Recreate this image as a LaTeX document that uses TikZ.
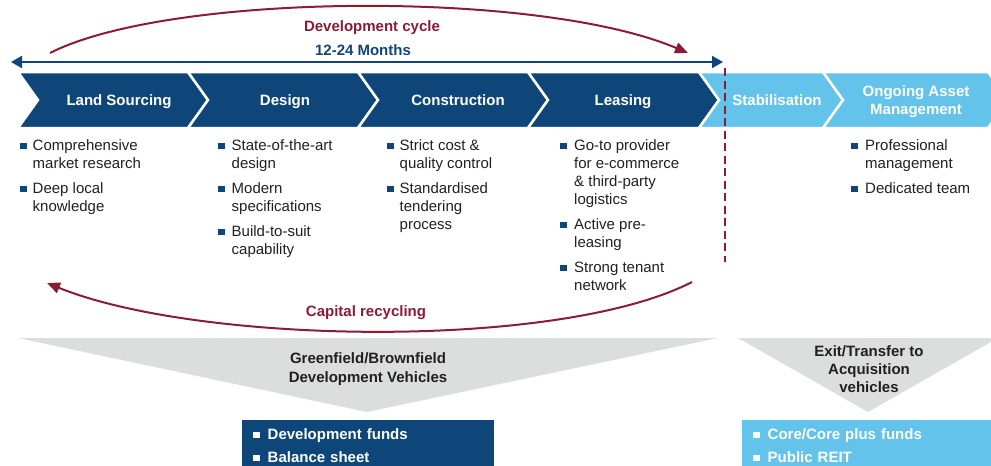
\documentclass[tikz,border=0pt]{standalone}
\usepackage{fontspec}
\setmainfont{Liberation Sans}
\usetikzlibrary{arrows.meta}

\definecolor{navy}{RGB}{15,70,121}
\definecolor{sky}{RGB}{99,195,234}
\definecolor{wine}{RGB}{140,27,52}
\definecolor{haze}{RGB}{220,221,221}
\definecolor{ink}{RGB}{35,31,32}

% square bullet
\newcommand{\bx}[1][navy]{\textcolor{#1}{\rule[1pt]{6.5pt}{6.5pt}}}

\begin{document}
\begin{tikzpicture}
			[x=1pt,y=-1pt,
			tag/.style={text=white,font=\fontsize{15}{17.7}\selectfont\bfseries,align=center},
			phase/.style={tag,text height=11pt,text depth=3pt},
			points/.style={anchor=north west,inner sep=0pt,text=ink,font=\fontsize{15}{18}\selectfont},
			vehicle/.style={align=center,text=ink,font=\fontsize{15}{18.3}\selectfont\bfseries},
			fund/.style={anchor=north west,inner xsep=11pt,inner ysep=6.4pt,text width=230pt,
				minimum height=54pt,align=left,text=white,font=\fontsize{15}{18}\selectfont\bfseries},
			caption/.style={anchor=base,font=\fontsize{15}{18}\selectfont\bfseries},
			loop/.style={wine,line width=2pt,-{Triangle[length=13pt,width=11pt]}},
			span/.style={navy,line width=2pt,{Triangle[length=11pt,width=12pt]}-{Triangle[length=11pt,width=12pt]}}]
			\useasboundingbox (0,0) rectangle (991,466);
			\clip (0,0) rectangle (991,466);

			% process chevrons
			\foreach \a/\b/\c in {18/188/navy,188/358/navy,358/528/navy,528/699/navy,699/823/sky,823/988/sky}
			\filldraw[fill=\c,draw=white,line width=2.5pt] (\a,72) -- (\b,72) -- (\b+20,100) -- (\b,128) -- (\a,128) -- (\a+20,100) -- cycle;

			\foreach \n/\x/\t in {land/119/Land Sourcing,design/285/Design,build/458/Construction,lease/623/Leasing,stab/777/Stabilisation}
			\node[phase] (\n) at (\x,101) {\t};
			\node[tag] (manage) at (916,101.7) {Ongoing Asset\\Management};

			% end of the development phase
			\draw[wine,line width=2.5pt,dash pattern=on 8pt off 4.5pt] (725,68) -- (725,262);

			% bullet points under each phase
			\node[points] (landpts) at (20,137.4) {\begin{tabular}{@{}l@{\hspace{6pt}}l@{}}
				\bx & Comprehensive\\ & market research\\[7pt]
				\bx & Deep local\\ & knowledge\end{tabular}};
			\node[points] (designpts) at (218,137.4) {\begin{tabular}{@{}l@{\hspace{7pt}}l@{}}
				\bx & State-of-the-art\\ & design\\[7pt]
				\bx & Modern\\ & specifications\\[7pt]
				\bx & Build-to-suit\\ & capability\end{tabular}};
			\node[points] (buildpts) at (387,137.4) {\begin{tabular}{@{}l@{\hspace{6pt}}l@{}}
				\bx & Strict cost \&\\ & quality control\\[7pt]
				\bx & Standardised\\ & tendering\\ & process\end{tabular}};
			\node[points] (leasepts) at (560,137.4) {\begin{tabular}{@{}l@{\hspace{7.5pt}}l@{}}
				\bx & Go-to provider\\ & for e-commerce\\ & \& third-party\\ & logistics\\[7pt]
				\bx & Active pre-\\ & leasing\\[7pt]
				\bx & Strong tenant\\ & network\end{tabular}};
			\node[points] (managepts) at (851,137.4) {\begin{tabular}{@{}l@{\hspace{7.5pt}}l@{}}
				\bx & Professional\\ & management\\[7pt]
				\bx & Dedicated team\end{tabular}};

			% cycle arrows
			\node[caption,text=wine] (cyclelbl) at (372,31.7) {Development cycle};
			\node[caption,text=navy] (months) at (363,55.3) {12-24 Months};
			\coordinate (spanl) at (11,62);
			\coordinate (spanr) at (723,62);
			\draw[span] (spanl) -- (spanr);
			\coordinate (cyclestart) at (50,53);
			\coordinate (cycleend) at (688,53);
			\draw[loop] (cyclestart) .. controls (170,-8) and (540,-10) .. (cycleend);

			\node[caption,text=wine] (recyclbl) at (366,316.7) {Capital recycling};
			\coordinate (recstart) at (692,282);
			\coordinate (recend) at (47,283);
			\draw[loop] (recstart) .. controls (560,350) and (200,345) .. (recend);

			% vehicles
			\fill[haze] (18,338) -- (718,338) -- (367,412) -- cycle;
			\fill[haze] (738,338) -- (998,338) -- (868,412) -- cycle;
			\node[vehicle] (devveh) at (368,369) {Greenfield/Brownfield\\Development Vehicles};
			\node[vehicle] (exitveh) at (869,369) {Exit/Transfer to\\Acquisition\\vehicles};

			\node[fund,fill=navy] (devfund) at (242,420) {\begin{tabular}{@{}l@{\hspace{8pt}}l@{}}
				\bx[white] & Development funds\\[4.7pt] \bx[white] & Balance sheet\end{tabular}};
			\node[fund,fill=sky] (corefund) at (742,420) {\begin{tabular}{@{}l@{\hspace{8pt}}l@{}}
				\bx[white] & Core/Core plus funds\\[4.7pt] \bx[white] & Public REIT\end{tabular}};

			\end{tikzpicture}
\end{document}
